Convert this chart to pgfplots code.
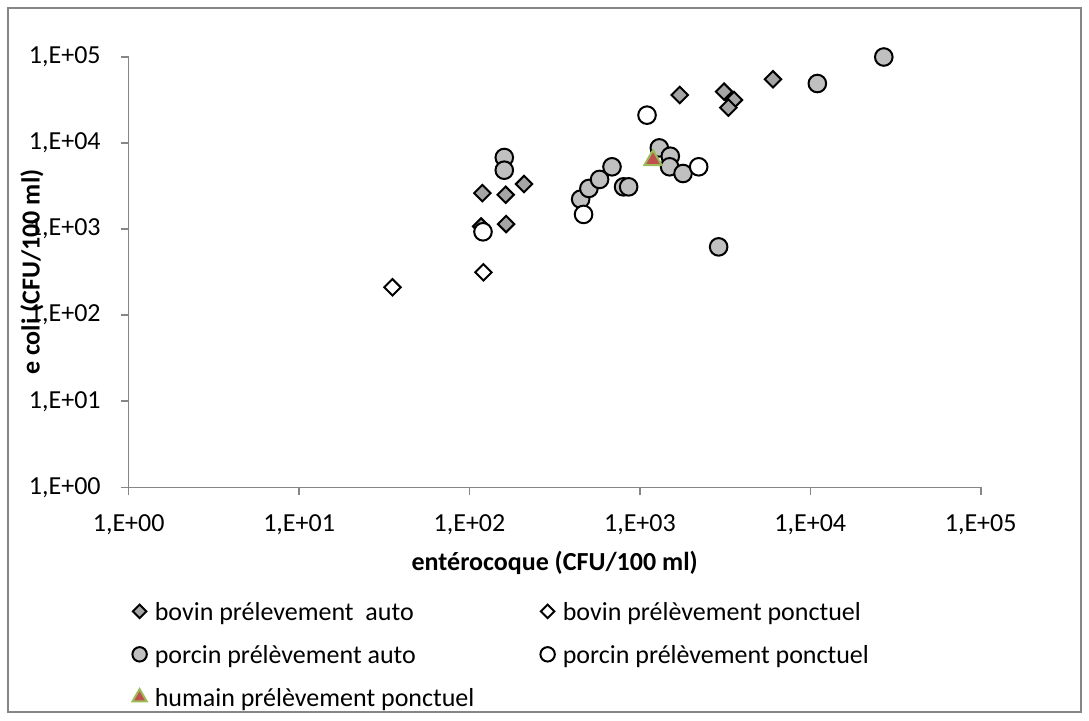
\documentclass[border=0pt]{standalone}
\usepackage{fontspec}
\setmainfont{Carlito}
\usepackage{pgfplots}
\pgfplotsset{compat=1.18}

\definecolor{axisgray}{HTML}{868686}
\definecolor{bovgray}{HTML}{A5A5A5}
\definecolor{porgray}{HTML}{C0C0C0}
\definecolor{humred}{HTML}{C0504D}
\definecolor{humgreen}{HTML}{9BBB59}

\newcommand{\chartfont}{\fontsize{13}{15.6}\selectfont}

\begin{document}
\chartfont
\begin{tikzpicture}
% page size and outer frame (1 px = 0.5pt)
\path (-64.35pt,-116.35pt) rectangle (480.15pt,243.65pt);
\draw[axisgray, line width=0.75pt] (-60.35pt,-112.35pt) rectangle (476.15pt,239.65pt);
\begin{axis}[
  at={(0pt,0pt)}, anchor=south west,
  width=426pt, height=215.15pt, scale only axis,
  xmode=log, ymode=log,
  xmin=1, xmax=1e5, ymin=1, ymax=1e5,
  clip=false,
  axis x line*=bottom, axis y line*=left,
  axis line style={axisgray, line width=0.8pt},
  tick style={axisgray, line width=0.8pt},
  tick align=outside, major tick length=4pt,
  xminorticks=false, yminorticks=false,
  xtick={1,10,100,1000,10000,100000},
  ytick={1,10,100,1000,10000,100000},
  xticklabels={{1,E+00},{1,E+01},{1,E+02},{1,E+03},{1,E+04},{1,E+05}},
  yticklabels={{1,E+00},{1,E+01},{1,E+02},{1,E+03},{1,E+04},{1,E+05}},
  tick label style={font=\chartfont, text=black},
  xticklabel style={yshift=-5pt},
  yticklabel style={xshift=-5.5pt},
  xlabel={\textbf{entérocoque (CFU/100 ml)}},
  ylabel={\textbf{e coli (CFU/100 ml)}},
  every axis x label/.style={at={(axis description cs:0.5,0)}, yshift=-37.85pt, anchor=center, font=\chartfont},
  every axis y label/.style={at={(axis description cs:0,0.5)}, xshift=-48.35pt, rotate=90, anchor=center, font=\chartfont},
  legend columns=2,
  legend cell align=left,
  legend image code/.code={\draw[#1] plot coordinates {(0pt,1pt)};},
  legend image post style={every mark/.append style={scale=0.82}},
  legend style={draw=none, fill=none, inner sep=0pt, font=\chartfont,
    at={(axis description cs:0,0)}, anchor=north west,
    xshift=1.65pt, yshift=-55.35pt,
    /tikz/every odd column/.append style={column sep=2pt},
    /tikz/every even column/.append style={column sep=31pt},
    row sep=6.5pt},
]
\addplot[only marks, mark=square*, mark size=2.9pt,
  mark options={rotate=45, fill=bovgray, draw=black, line width=1pt}]
  coordinates {(119,2620) (163,2510) (209,3340) (117,1075) (164,1146)
    (1713,36200) (3117,39600) (3566,31700) (3305,25800) (6040,55100)};
\addlegendentry{bovin prélevement\ \ auto}
\addplot[only marks, mark=square*, mark size=2.9pt,
  mark options={rotate=45, fill=white, draw=black, line width=1pt}]
  coordinates {(35.3,211) (120.7,315)};
\addlegendentry{bovin prélèvement ponctuel}
\addplot[only marks, mark=*, mark size=4.4pt,
  mark options={fill=porgray, draw=black, line width=1pt}]
  coordinates {(160,6800) (160,4840) (449,2230) (502,2970) (580,3780)
    (686,5300) (802,3100) (859,3100) (1300,8790) (1508,7040) (1494,5300)
    (1791,4430) (11000,49200) (27000,100000) (2898,622)};
\addlegendentry{porcin prélèvement auto}
\addplot[only marks, mark=*, mark size=4.4pt,
  mark options={fill=white, draw=black, line width=1pt}]
  coordinates {(120,931) (467,1482) (1101,21100) (2213,5300)};
\addlegendentry{porcin prélèvement ponctuel}
\addplot[only marks, mark=triangle*, mark size=5pt,
  mark options={fill=humred, draw=humgreen, line width=1pt}]
  coordinates {(1194,6330)};
\addlegendentry{humain prélèvement ponctuel}
\end{axis}
\end{tikzpicture}
\end{document}
